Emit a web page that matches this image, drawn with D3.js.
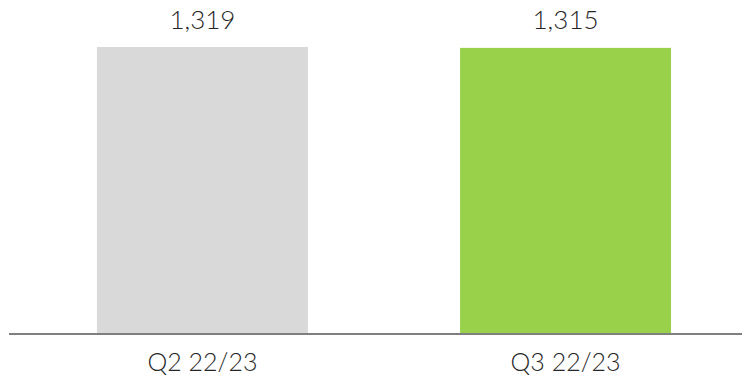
<!DOCTYPE html>
<html>
<head>
<meta charset="utf-8">
<script src="https://cdn.jsdelivr.net/npm/d3@7"></script>
<style>
  body { margin: 0; background: #fff; }
  text { font-family: "Lato", "Open Sans", sans-serif; font-weight: 300; fill: #262626; }
</style>
</head>
<body>
<div id="chart"></div>
<script>
const svgWidth = 742;
const svgHeight = 379;

const categories = ["Q2 22/23", "Q3 22/23"];
const values = [1319, 1315];
const barColors = ["#d9d9d9", "#9ad14b"];

const baseY = 334;
const topY = 47;

let svg = d3.select("#chart")
    .append("svg")
    .attr("width", svgWidth)
    .attr("height", svgHeight);

let xScale = d3.scaleBand()
    .domain(categories)
    .range([18, 750])
    .paddingInner(0.419)
    .paddingOuter(0.2175);

let yScale = d3.scaleLinear()
    .domain([0, d3.max(values)])
    .range([baseY, topY]);

const data = categories.map((c, i) => ({ cat: c, value: values[i], color: barColors[i] }));

// bars
svg.selectAll("rect.bar")
    .data(data)
    .enter()
    .append("rect")
    .attr("class", "bar")
    .attr("x", d => xScale(d.cat))
    .attr("y", d => yScale(d.value))
    .attr("width", xScale.bandwidth())
    .attr("height", d => baseY - yScale(d.value))
    .attr("fill", d => d.color);

// value labels
svg.selectAll("text.value")
    .data(data)
    .enter()
    .append("text")
    .attr("class", "value")
    .attr("x", d => xScale(d.cat) + xScale.bandwidth() / 2)
    .attr("y", 29)
    .attr("text-anchor", "middle")
    .attr("font-size", "26px")
    .text(d => d3.format(",")(d.value));

// baseline axis
const bottomAxis = d3.axisBottom(xScale).tickSize(0).tickPadding(19);
let xAxis = svg.append("g")
    .attr("transform", `translate(0, ${baseY})`)
    .call(bottomAxis);

xAxis.select(".domain").remove();
xAxis.append("line")
    .attr("x1", 9)
    .attr("x2", svgWidth)
    .attr("stroke", "#7f7f7f")
    .attr("stroke-width", 2);

xAxis.selectAll(".tick text")
    .attr("font-size", "25px")
    .attr("font-family", null)
    .attr("fill", null);
</script>
</body>
</html>
